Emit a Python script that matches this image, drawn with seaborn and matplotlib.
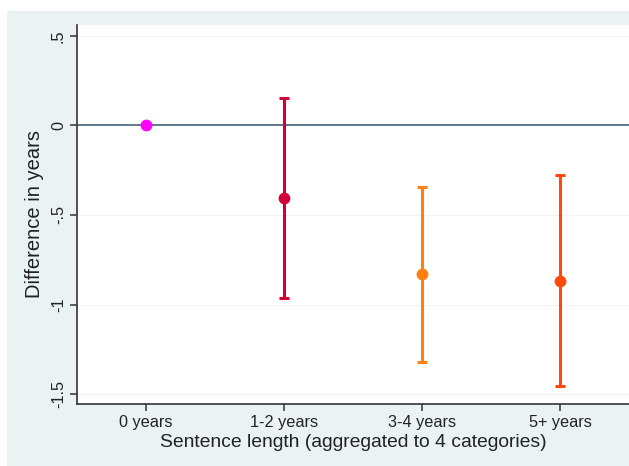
import matplotlib
matplotlib.use("Agg")
import matplotlib.pyplot as plt
import seaborn as sns
from matplotlib.patches import Rectangle

# sentence length categories and estimated difference with 95% CI
categories = ["0 years", "1-2 years", "3-4 years", "5+ years"]
estimate = [0.0, -0.405, -0.832, -0.871]
ci_low = [0.0, -0.963, -1.321, -1.457]
ci_high = [0.0, 0.152, -0.344, -0.279]
colors = ["#FF00FF", "#D2003A", "#FF8010", "#FF4A0A"]

yticks = [0.5, 0, -0.5, -1, -1.5]
ytick_labels = [".5", "0", "-.5", "-1", "-1.5"]

sns.set_theme(style="white")
plt.rcParams["font.family"] = ["Liberation Sans", "DejaVu Sans"]

fig = plt.figure(figsize=(6.29, 4.66), dpi=100)
fig.patch.set_facecolor("white")
# stata-style light background band
fig.patches.append(Rectangle((7 / 629, 0), 1, (466 - 11) / 466, transform=fig.transFigure,
                             facecolor="#EAF2F3", edgecolor="none", zorder=-5))
ax = fig.add_axes([77 / 629, (466 - 404) / 466, 1 - 77 / 629, (404 - 25) / 466])
ax.set_zorder(2)
ax.set_facecolor("white")

for yv in yticks:
    ax.axhline(yv, color="#EEF4F4", lw=0.8, zorder=0)
ax.axhline(0, color="#62778A", lw=1.4, zorder=1)

for i, cat in enumerate(categories):
    if ci_low[i] == ci_high[i]:
        continue
    ax.errorbar([i], [estimate[i]],
                yerr=[[estimate[i] - ci_low[i]], [ci_high[i] - estimate[i]]],
                fmt="none", ecolor=colors[i], elinewidth=2.2, capsize=3.8,
                capthick=2.2, zorder=2)

sns.stripplot(x=categories, y=estimate, hue=categories, palette=colors,
              jitter=False, size=8.5, legend=False, ax=ax, zorder=3)

ax.set_xlim(-0.5, 3.5)
ax.set_ylim(-1.555, 0.56)
ax.set_yticks(yticks)
ax.set_yticklabels(ytick_labels, rotation=90, va="center")
ax.set_xlabel("Sentence length (aggregated to 4 categories)", fontsize=13.9, color="#222222", labelpad=2.5)
ax.set_ylabel("Difference in years", fontsize=14.5, color="#222222", labelpad=5)

for side in ["top", "right"]:
    ax.spines[side].set_visible(False)
for side in ["left", "bottom"]:
    ax.spines[side].set_color("#333333")
    ax.spines[side].set_linewidth(1.2)
ax.tick_params(axis="both", which="both", direction="out", length=5, width=1.1,
               color="#333333", labelcolor="#222222", labelsize=11.7, pad=3,
               left=True, bottom=True)

fig.savefig("out.png", dpi=100)
